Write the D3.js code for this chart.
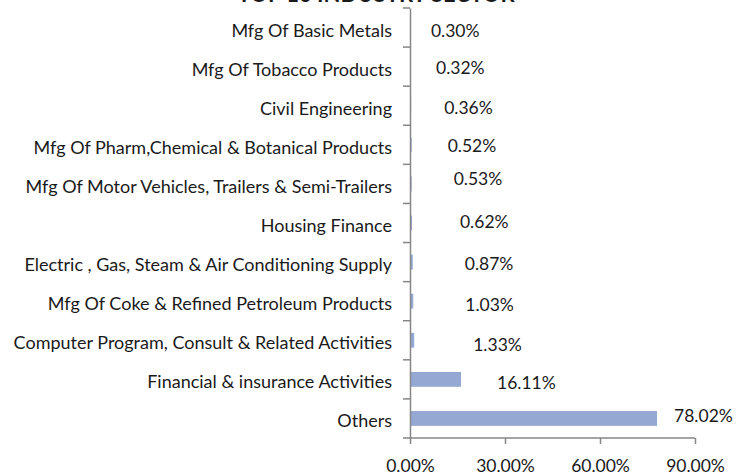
<!DOCTYPE html>
<html>
<head>
<meta charset="utf-8">
<script src="https://cdn.jsdelivr.net/npm/d3@7"></script>
<style>
  body { margin: 0; background: #fff; }
  svg text { font-family: Lato, "Open Sans", sans-serif; fill: #1a1a1a; }
</style>
</head>
<body>
<div class="chart"></div>
<script>
// top 10 industry sectors, share of total (%)
const sectors = [
  'Mfg Of Basic Metals',
  'Mfg Of Tobacco Products',
  'Civil Engineering',
  'Mfg Of Pharm,Chemical & Botanical Products',
  'Mfg Of Motor Vehicles, Trailers & Semi-Trailers',
  'Housing Finance',
  'Electric , Gas, Steam & Air Conditioning Supply',
  'Mfg Of Coke & Refined Petroleum Products',
  'Computer Program, Consult & Related Activities',
  'Financial & insurance Activities',
  'Others'
]
const shares = [0.30, 0.32, 0.36, 0.52, 0.53, 0.62, 0.87, 1.03, 1.33, 16.11, 78.02]
const xTicks = [0, 30, 60, 90]
const title = 'TOP 10 INDUSTRY SECTOR'

let width = 747, height = 473
let margin = { top: 8, right: 52, bottom: 35, left: 410 }

let svg = d3.select('.chart')
  .append('svg')
  .attr('width', width)
  .attr('height', height)

const x = d3.scaleLinear()
  .domain([0, 90])
  .range([margin.left, width - margin.right])

const y = d3.scaleBand()
  .domain(sectors)
  .range([margin.top, height - margin.bottom])
  .paddingInner(0.62)
  .paddingOuter(0.31)

// the labels were dragged around by hand in the original, these are nudges in px
const labelNudge = [[20, 3], [25, 1], [33, 2], [36, 1], [42, -5], [48, -1], [52, 2], [52, 4], [59, 4], [36, 3], [17, -3]]

svg.append('text')
  .attr('x', 376)
  .attr('y', 2)
  .attr('text-anchor', 'middle')
  .style('font-size', '22px')
  .style('font-weight', 'bold')
  .text(title)

svg.append('g')
  .selectAll('rect')
  .data(shares)
  .join('rect')
  .attr('x', x(0))
  .attr('y', (d, i) => y(sectors[i]))
  .attr('width', d => x(d) - x(0))
  .attr('height', y.bandwidth())
  .attr('fill', '#95a8d4')

// value labels
svg.append('g')
  .selectAll('text')
  .data(shares)
  .join('text')
  .attr('x', (d, i) => x(d) + labelNudge[i][0])
  .attr('y', (d, i) => y(sectors[i]) + y.bandwidth() / 2 + labelNudge[i][1])
  .attr('dy', '0.36em')
  .style('font-size', '17.5px')
  .text(d => d.toFixed(2) + '%')

// category axis
const yAxis = d3.axisLeft(y).tickSize(0).tickPadding(18)
let gy = svg.append('g')
  .attr('transform', 'translate(' + x(0) + ',0)')
  .call(yAxis)
gy.select('.domain').attr('stroke', '#868686').attr('stroke-width', 1.5)
gy.selectAll('.tick text')
  .attr('dy', '0.5em')
  .style('font-size', '18px')
  .style('fill', '#1a1a1a')

// tick marks between the categories
const step = y.step()
svg.append('g')
  .selectAll('line')
  .data(d3.range(sectors.length + 1))
  .join('line')
  .attr('x1', x(0) - 7)
  .attr('x2', x(0))
  .attr('y1', i => margin.top + i * step)
  .attr('y2', i => margin.top + i * step)
  .attr('stroke', '#868686')
  .attr('stroke-width', 1.5)

// value axis
const xAxis = d3.axisBottom(x)
  .tickValues(xTicks)
  .tickSize(6)
  .tickPadding(16)
  .tickFormat(d => d.toFixed(2) + '%')
let gx = svg.append('g')
  .attr('transform', 'translate(0,' + (height - margin.bottom) + ')')
  .call(xAxis)
gx.select('.domain').attr('stroke', '#868686').attr('stroke-width', 1.5).attr('d', 'M' + x(0) + ',0H' + x(90))
gx.selectAll('.tick line').attr('stroke', '#868686').attr('stroke-width', 1.5)
gx.selectAll('.tick text')
  .style('font-size', '17.5px')
  .style('fill', '#1a1a1a')
</script>
</body>
</html>
